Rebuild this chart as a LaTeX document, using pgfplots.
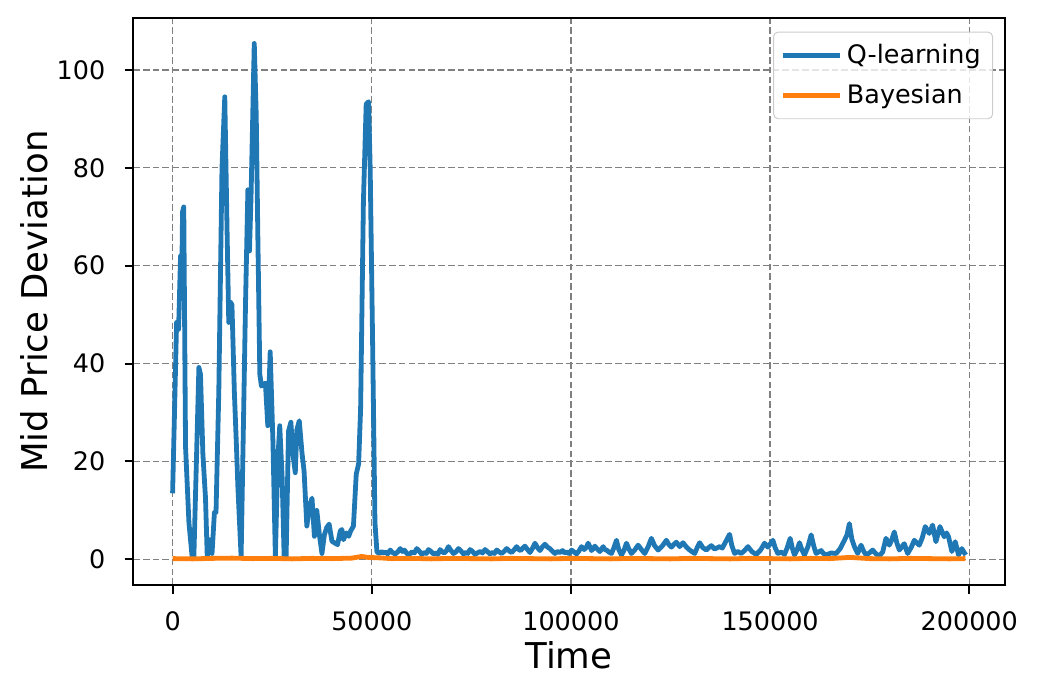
\documentclass[border=0pt]{standalone}
\usepackage{pgfplots}
\pgfplotsset{compat=1.18}
\usepackage{fontspec}
\setmainfont{DejaVu Sans}

\definecolor{mplblue}{HTML}{1F77B4}
\definecolor{mplorange}{HTML}{FF7F0E}

\begin{document}
\begin{tikzpicture}
\begin{axis}[
    name=ax,
    scale only axis,
    width=363.3pt, height=236.3pt,
    xmin=-9950, xmax=208950,
    ymin=-5.27, ymax=110.6,
    xtick={0,50000,100000,150000,200000},
    ytick={0,20,40,60,80,100},
    scaled x ticks=false,
    xticklabel style={/pgf/number format/fixed, /pgf/number format/1000 sep={}, yshift=-4pt},
    yticklabel style={xshift=-4.5pt},
    /pgf/number format/assume math mode=true,
    tick label style={font=\fontsize{10.6}{12.7}\selectfont},
    tick align=outside,
    major tick length=3.5pt,
    tick style={black, line width=0.8pt},
    axis line style={line width=0.8pt},
    xtick pos=bottom, ytick pos=left,
    grid=major,
    major grid style={gray, line width=0.6pt, dash pattern=on 2.8pt off 1.3pt},
    xlabel={Time},
    ylabel={Mid Price Deviation},
    label style={font=\fontsize{14.8}{17.8}\selectfont},
    xlabel style={at={(axis description cs:0.5,-0.1464)}, anchor=base},
    ylabel style={at={(axis description cs:-0.0975,0.5)}, anchor=base, rotate=0},
    legend cell align=left,
    legend style={at={(axis description cs:0.9865,0.976)}, anchor=north east,
        draw=black!20, rounded corners=2pt, fill=white, fill opacity=0.8, text opacity=1,
        font=\fontsize{10.6}{12.7}\selectfont, inner xsep=3pt, inner ysep=3pt, row sep=3pt},
    legend image code/.code={\draw[#1, line width=2pt] (0pt,0pt) -- (23.6pt,0pt);},
]
\addplot[mplblue, line width=2pt, line join=round] coordinates {
(0,13.5) (500,30.8) (1000,48.4) (1500,47) (2000,62) (2300,57.5) (2500,71) (2800,72)
(3250,23) (4100,7.5) (4900,0.5) (5340,0.5) (6600,39.2) (7000,37.8) (7600,21.6)
(8260,12.5) (8700,0.5) (9350,4) (9900,1.2) (10500,9.6) (10900,9.6) (11600,34.3)
(12400,80) (13100,94.5) (13700,66) (14100,48.4) (14500,52.6) (14900,52) (15500,34.3)
(16000,23.7) (16400,14.6) (17200,0.5) (17700,23.7) (18300,52) (18900,75.5) (19300,63)
(19700,74.4) (20500,105.4) (21000,90.6) (21400,66) (21900,37.8) (22300,35.4) (23300,36)
(23900,27.3) (24500,42.4) (25200,23.7) (25800,0.5) (26400,20.2) (26900,27.3) (27500,16.7)
(28000,0.5) (28500,0.5) (29100,26.2) (29700,28) (30200,21.6) (30800,17.7) (31200,26.5)
(31800,28.3) (32500,21.6) (33000,18.1) (33700,6.8) (34400,11) (35000,12.5) (35600,4.7)
(36200,10) (36900,4.7) (37500,1.2) (38100,5) (38700,6.5) (39300,7.2) (40000,3.7)
(40800,3.3) (41400,3) (42100,5.8) (42500,6.1) (42900,4) (43600,5.4) (44200,4.7)
(44700,5.8) (45400,6.8) (46100,17.4) (46700,19.5) (47200,30.8) (47900,73) (48600,93)
(49200,93.5) (49600,80) (50200,45) (50800,7.5)
(51300,1.5) (51900,1.2) (52500,1.6) (52960,1.3) (53500,1.5) (54000,1.1) (54630,1.9)
(55200,1.4) (55880,1.1) (56500,1.5) (57140,2.2) (57700,1.6) (58200,1.9) (58810,1.2)
(59400,1.0) (60060,1.5) (60700,1.3) (61310,2.2) (61900,1.7) (62570,1.0) (63200,1.4)
(63700,1.2) (64240,2.0) (64900,1.6) (65490,1.1) (66100,1.3) (66600,1.0) (67160,2.0)
(67600,1.6) (68160,1.3) (68700,1.7) (69250,2.6) (69900,1.8) (70500,1.2) (71100,1.5)
(71760,2.2) (72400,1.7) (73010,1.1) (73600,1.4) (74100,1.2) (74680,2.0) (75300,1.6)
(75930,1.0) (76500,1.3) (77190,1.6) (77800,1.3) (78440,2.0) (79000,1.6) (79690,1.1)
(80300,1.4) (80800,1.2) (81360,1.9) (82000,1.5) (82610,1.2) (83200,1.6) (83870,2.2)
(84500,1.7) (85120,1.4) (85700,1.9) (86370,2.6) (86900,2.0) (87380,1.8) (87900,2.3)
(88460,2.7) (89100,2.0) (89710,1.4) (90300,2.2) (90970,3.3) (91600,2.4) (92220,1.8)
(92800,2.5) (93470,3.1) (94100,2.5) (94720,2.2) (95300,1.7) (95980,1.2) (96600,1.6)
(97230,1.4) (97900,1.8) (98400,1.3) (98900,1.5) (99500,1.2) (100160,1.9) (100800,1.5)
(101410,1.1) (102000,1.7) (102660,2.6) (103300,2.0) (103800,2.4) (104330,3.3) (104800,2.5)
(105170,1.8) (105600,2.2) (106000,2.7) (106600,2.1) (107260,1.6)
(108100,2.6) (108500,2.0) (108930,1.9) (109500,1.5) (110180,1.2) (110800,2.4) (111430,3.9)
(112000,2.0) (112690,0.9) (113300,1.8) (113940,3.3) (114500,2.2) (115190,1.2) (116000,1.9)
(116860,2.9) (117700,2.0) (118530,1.2) (119400,2.6) (120200,4.3) (121000,2.8) (121880,1.9)
(122900,2.7) (123960,3.9) (124600,3.0) (125220,2.5) (125900,3.1) (126470,3.5) (127300,2.6)
(128140,3.4) (129000,2.5) (129810,1.9) (131060,1.2) (131700,2.4) (132320,3.4) (133100,2.4)
(133990,1.9) (134600,2.4) (135240,2.8) (136080,2.1) (137330,2.6) (138000,2.3) (138580,3.2)
(139830,5.1) (140400,2.8) (141090,1.2) (141900,1.6) (142760,1.2) (143600,1.8) (144430,2.6)
(145400,1.6) (146510,1.0) (147600,1.9) (148600,3.3) (149440,2.5) (150690,3.9) (151300,2.3)
(151950,1.2) (152800,1.5) (153620,1.0) (154300,2.4) (155040,4.3) (155600,2.2) (156120,0.9)
(156800,2.0) (157380,3.4) (158000,1.9) (158630,0.9) (159500,2.6) (160300,5.0) (161000,2.6)
(161550,1.2) (162810,1.8) (163400,1.2) (164060,0.9) (165300,1.3) (166570,1.2) (167600,2.2)
(168660,3.9) (169300,5.0) (169900,7.3) (170500,4.2) (171160,2.6) (171990,1.2) (172830,2.9)
(173400,1.8) (174080,0.9) (174900,1.3) (175750,1.9) (176600,1.1) (177420,0.7) (178260,1.5)
(179090,4.3) (179930,2.9) (180500,3.9) (181180,5.6) (181800,3.4) (182440,1.9) (183690,3.2)
(184520,1.2) (185400,2.4) (186200,3.9) (187450,2.9) (188200,4.4) (188950,6.7) (189960,5.3)
(190790,7.0) (191630,3.6) (192630,6.7) (193710,4.6) (194300,5.4) (194800,4.6) (195630,1.6)
(196470,3.6) (197300,0.9) (198140,2.2) (198700,1.4) (199140,0.9)
};
\addlegendentry{Q-learning}
\addplot[mplorange, line width=2pt, line join=round] coordinates {
(0,0.15) (5000,0.1) (10000,0.2) (15000,0.25) (20000,0.15) (25000,0.2) (30000,0.1)
(35000,0.2) (40000,0.15) (45000,0.25) (47500,0.6) (49000,0.4) (52000,0.3) (55000,0.15)
(60000,0.2) (65000,0.1) (70000,0.2) (75000,0.15) (80000,0.1) (85000,0.2) (90000,0.15)
(95000,0.1) (100000,0.2) (105000,0.15) (110000,0.1) (115000,0.2) (120000,0.15)
(125000,0.1) (130000,0.2) (135000,0.15) (140000,0.1) (145000,0.2) (150000,0.15)
(155000,0.1) (160000,0.2) (165000,0.15) (170000,0.4) (175000,0.15) (180000,0.1)
(185000,0.2) (190000,0.15) (195000,0.1) (199000,0.15)
};
\addlegendentry{Bayesian}
\end{axis}
\path ([xshift=-55.4pt,yshift=-45.4pt]ax.south west) rectangle ([xshift=14.2pt,yshift=7.5pt]ax.north east);
\end{tikzpicture}
\end{document}
